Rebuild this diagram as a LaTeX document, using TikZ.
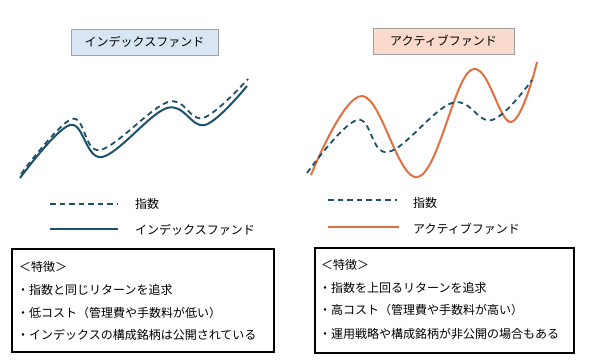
\documentclass[tikz,border=0pt]{standalone}
\usepackage{fontspec}
\setmainfont{Noto Sans CJK JP}
\definecolor{teal1}{RGB}{28,82,108}
\definecolor{orng}{RGB}{226,112,64}
\definecolor{bluefill}{RGB}{216,230,244}
\definecolor{salfill}{RGB}{249,218,205}
\definecolor{grayb}{RGB}{160,160,160}
\begin{document}
\begin{tikzpicture}[x=1pt,y=-1pt,
  titlebox/.style={draw=grayb,line width=1pt,minimum width=147pt,minimum height=26pt,inner sep=0pt,font=\fontsize{12}{14}\selectfont},
  featbox/.style={draw=black,line width=1.8pt},
  txt/.style={anchor=west,inner sep=0pt,font=\fontsize{12}{14}\selectfont},
  idx/.style={teal1,line width=1.8pt,dash pattern=on 5.5pt off 4pt},
  fund/.style={teal1,line width=2pt},
  act/.style={orng,line width=2pt}]
\useasboundingbox (0,0) rectangle (590,364);
\fill[white] (0,0) rectangle (590,364);
% titles
\node[titlebox,fill=bluefill] (t1) at (144.5,42) {インデックスファンド};
\node[titlebox,fill=salfill,minimum width=141pt] (t2) at (443.5,41) {アクティブファンド};
% left curves
\draw[fund] plot[smooth,tension=0.6] coordinates {(20,178) (70,125) (102,157) (167,108) (205,125) (247,86)};
\draw[idx] plot[smooth,tension=0.6] coordinates {(21,174) (72,119) (100,150) (168,102) (203,118) (248,79)};
% right curves
\draw[act] plot[smooth,tension=0.65] coordinates {(311,175) (362,96) (418,177) (471,70) (511,122) (537,62)};
\draw[idx] plot[smooth,tension=0.65] coordinates {(307,173) (357,120) (388,152) (452,103) (492,120) (532,80)};
% legends
\coordinate (l1a) at (50,204); \coordinate (l1b) at (118,204);
\coordinate (l2a) at (50,229); \coordinate (l2b) at (118,229);
\draw[idx] (l1a) -- (l1b);
\draw[fund] (l2a) -- (l2b);
\node[txt] (lg1) at (135,204) {指数};
\node[txt] (lg2) at (135,230) {インデックスファンド};
\coordinate (r1a) at (328,200); \coordinate (r1b) at (397,200);
\coordinate (r2a) at (328,227); \coordinate (r2b) at (399,227);
\draw[idx] (r1a) -- (r1b);
\draw[act] (r2a) -- (r2b);
\node[txt] (rg1) at (413,203) {指数};
\node[txt] (rg2) at (413,229) {アクティブファンド};
% feature boxes
\draw[featbox] (12,249) rectangle (274,352);
\node[txt] (f0) at (19,267) {＜特徴＞};
\node[txt] (f1) at (17,290) {・指数と同じリターンを追求};
\node[txt] (f2) at (17,313) {・低コスト（管理費や手数料が低い）};
\node[txt] (f3) at (17,335) {・インデックスの構成銘柄は公開されている};
\draw[featbox] (315,248) rectangle (574,353);
\node[txt] (g0) at (321,265) {＜特徴＞};
\node[txt] (g1) at (319,288) {・指数を上回るリターンを追求};
\node[txt] (g2) at (319,310) {・高コスト（管理費や手数料が高い）};
\node[txt] (g3) at (319,334) {・運用戦略や構成銘柄が非公開の場合もある};
\end{tikzpicture}
\end{document}
